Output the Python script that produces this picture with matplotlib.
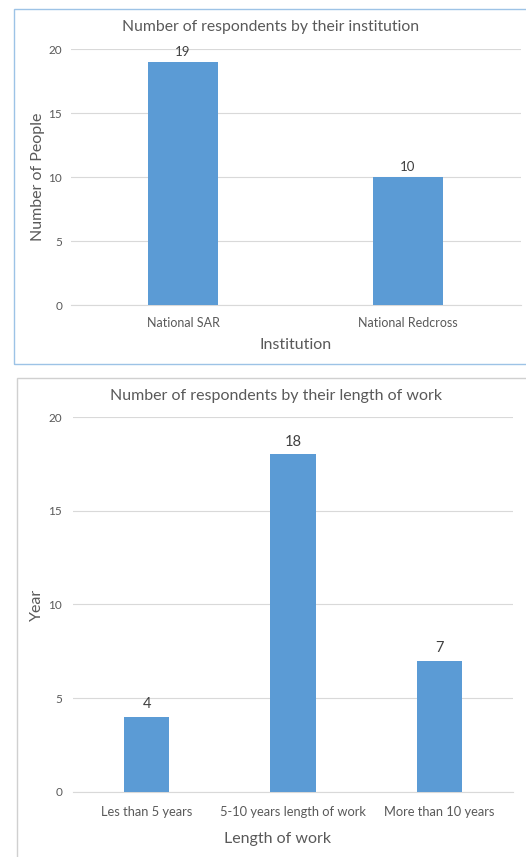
import matplotlib.pyplot as plt
from matplotlib.patches import Rectangle

plt.rcParams["font.family"] = ["Lato", "DejaVu Sans"]

W, H = 526, 857

institutions = ["National SAR", "National Redcross"]
institution_counts = [19, 10]

work_lengths = ["Les than 5 years", "5-10 years length of work", "More than 10 years"]
work_counts = [4, 18, 7]

BAR = "#5B9BD5"
TXT = "#595959"
GRID = "#D9D9D9"


def px_box(x0, y0, x1, y1):
    # pixel box (top-left origin) -> figure fraction [left, bottom, width, height]
    return [x0 / W, 1 - y1 / H, (x1 - x0) / W, (y1 - y0) / H]


def fig_text(fig, x, y, s, **kw):
    fig.text(x / W, 1 - y / H, s, ha="center", va="center", color=TXT, **kw)


def bar_panel(fig, box, cats, vals, tick_fs, val_fs, val_off, ypad, xpad):
    ax = fig.add_axes(px_box(*box))
    xs = range(len(cats))
    bars = ax.bar(xs, vals, width=0.31, color=BAR, zorder=3)
    ax.set_xlim(-0.5, len(cats) - 0.5)
    ax.set_ylim(0, 20)
    ax.set_yticks([0, 5, 10, 15, 20])
    ax.set_xticks(list(xs))
    ax.set_xticklabels(cats)
    ax.grid(axis="y", color=GRID, linewidth=0.8, zorder=0)
    for s in ["top", "right", "left"]:
        ax.spines[s].set_visible(False)
    ax.spines["bottom"].set_color(GRID)
    ax.tick_params(axis="y", length=0, pad=ypad, labelsize=8.5, labelcolor=TXT)
    ax.tick_params(axis="x", length=0, pad=xpad, labelsize=tick_fs, labelcolor=TXT)
    for b, v in zip(bars, vals):
        ax.annotate(str(v), (b.get_x() + b.get_width() / 2, v),
                    xytext=(0, val_off), textcoords="offset points",
                    ha="center", va="center", fontsize=val_fs, color="#404040")
    return ax


fig = plt.figure(figsize=(W / 100, H / 100), dpi=100)

# chart frames
fig.patches.append(Rectangle((14 / W, 1 - 364 / H), 520 / W, 355 / H,
                             transform=fig.transFigure, fill=False,
                             edgecolor="#9DC3E6", linewidth=1.0))
fig.patches.append(Rectangle((17 / W, -0.01), 520 / W, (H - 378) / H + 0.01,
                             transform=fig.transFigure, fill=False,
                             edgecolor="#D0D0D0", linewidth=1.0))

# top chart
bar_panel(fig, (70.5, 49, 520.5, 305), institutions, institution_counts,
          9, 9.5, 7, 6, 8.5)
fig_text(fig, 271, 27, "Number of respondents by their institution", fontsize=11.3)
fig_text(fig, 38, 177, "Number of People", fontsize=11.5, rotation=90)
fig_text(fig, 296, 345, "Institution", fontsize=11.5)

# bottom chart
bar_panel(fig, (73.4, 417, 512.8, 791.7), work_lengths, work_counts,
          9.3, 10.5, 9, 8, 10)
fig_text(fig, 276, 396, "Number of respondents by their length of work", fontsize=11.5)
fig_text(fig, 37, 605, "Year", fontsize=11.5, rotation=90)
fig_text(fig, 278, 839, "Length of work", fontsize=11.5)

fig.savefig("out.png", dpi=100, facecolor="white")
